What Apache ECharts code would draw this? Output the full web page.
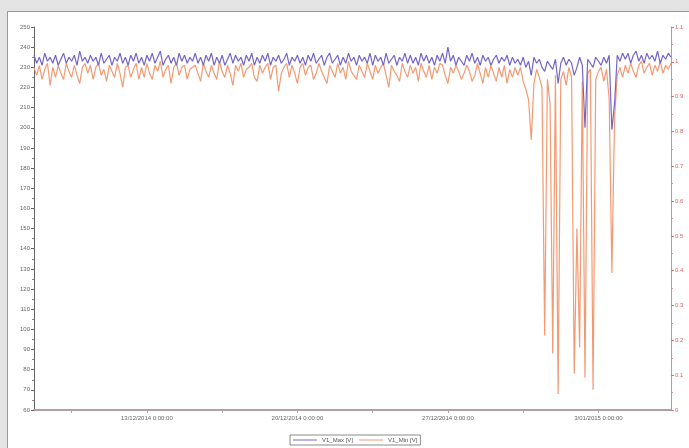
<!DOCTYPE html>
<html><head><meta charset="utf-8">
<script src="https://cdn.jsdelivr.net/npm/echarts@6/dist/echarts.min.js"></script>
<style>
html,body{margin:0;padding:0;background:#e4e4e4;width:689px;height:448px;overflow:hidden;}
#panel{position:absolute;left:7px;top:11px;width:681px;height:436px;background:#fff;border-left:1px solid #9a9a9a;border-top:1px solid #9a9a9a;}
#chart{width:681px;height:436px;}
</style></head>
<body><div id="panel"><div id="chart"></div></div>
<script>
// sampling: 3-hour steps starting 7/12/2014 18:00
const startTime = Date.UTC(2014, 11, 7, 18);
const stepMs = 3 * 3600 * 1000;
const seriesNames = ['V1_Max [V]', 'V1_Min [V]'];
const v1Max = [
236,232,235,231,237,233,235,232,236,231,234,237,232,235,233,236,231,238,233,235,
232,236,233,235,231,237,232,234,236,231,235,233,237,232,235,231,236,233,237,232,
235,231,236,233,237,232,235,238,231,234,236,232,235,231,237,233,236,232,235,233,
237,232,235,231,236,233,237,231,235,232,236,231,234,237,232,236,233,235,231,236,
233,237,231,235,232,236,233,237,231,235,233,236,232,234,237,231,235,233,236,232,
235,231,236,233,237,232,234,236,231,235,237,232,234,236,231,235,232,237,233,235,
231,236,233,235,232,237,231,236,233,235,231,237,232,234,236,231,235,233,237,232,
236,232,235,231,237,233,236,232,235,231,236,233,237,232,240,233,236,231,235,233,
231,236,233,237,232,235,231,236,233,235,231,234,236,232,235,233,236,231,235,232,
234,231,235,230,233,226,235,232,234,230,228,233,231,229,234,222,232,235,231,234,
232,226,230,235,231,200,234,232,230,235,233,231,235,232,236,199,212,236,233,237,
234,237,232,236,238,233,236,232,237,234,236,233,238,232,236,234,237,235
];
const v1Min = [
230,226,231,224,229,232,221,230,225,231,227,224,232,228,225,231,226,222,230,232,
227,231,224,230,232,226,229,223,231,228,225,232,227,220,230,231,225,229,232,224,
230,225,232,227,224,231,228,233,225,229,231,222,230,232,226,230,231,224,229,230,
231,227,223,232,228,225,231,227,224,233,228,225,231,227,221,231,228,232,225,229,
230,232,225,223,231,227,230,232,224,230,231,218,227,230,232,225,231,227,222,230,
232,226,230,231,224,227,232,228,225,222,231,228,225,232,227,230,224,233,228,226,
224,231,228,225,232,228,224,231,227,230,232,226,220,231,228,226,223,232,228,225,
231,227,230,223,232,228,225,231,224,230,227,232,231,226,222,230,227,231,228,224,
227,231,228,223,226,232,227,222,230,225,231,227,223,230,225,231,222,229,225,230,
226,230,223,219,214,194,222,229,225,220,97,224,212,88,226,68,224,228,221,230,
225,78,150,91,223,76,227,229,70,224,228,230,223,229,214,128,205,226,230,225,
231,227,232,228,225,231,233,227,230,232,226,231,228,233,227,231,229,232
];
const xLabelDates = [Date.UTC(2014,11,13), Date.UTC(2014,11,20), Date.UTC(2014,11,27), Date.UTC(2015,0,3)];
const xTickLabels = ['13/12/2014 0:00:00', '20/12/2014 0:00:00', '27/12/2014 0:00:00', '3/01/2015 0:00:00'];
const xTickDates = [Date.UTC(2014,11,9,12), Date.UTC(2014,11,13), Date.UTC(2014,11,16,12), Date.UTC(2014,11,20),
  Date.UTC(2014,11,23,12), Date.UTC(2014,11,27), Date.UTC(2014,11,30,12), Date.UTC(2015,0,3)];

const toPairs = arr => arr.map((v, i) => [startTime + i * stepMs, v]);
const endTime = startTime + (v1Max.length - 1) * stepMs;

const chart = echarts.init(document.getElementById('chart'));
chart.setOption({
  animation: false,
  backgroundColor: '#fff',
  grid: {left: 26, right: 18, top: 15, bottom: 38},
  legend: {
    left: 282, top: 423,
    data: seriesNames,
    icon: 'rect', itemWidth: 24, itemHeight: 1, itemGap: 6,
    borderColor: '#8a8a8a', borderWidth: 1, padding: [2, 3],
    textStyle: {fontSize: 6, color: '#555', fontFamily: 'Liberation Sans'}
  },
  xAxis: {
    type: 'value', min: startTime, max: endTime,
    axisLine: {show: true, onZero: false, lineStyle: {color: '#b0a0a4', width: 2}},
    axisTick: {show: true, customValues: xTickDates, length: 3, lineStyle: {color: '#aaa'}},
    axisLabel: {
      customValues: xLabelDates, fontSize: 6, color: '#666', margin: 5, fontFamily: 'Liberation Sans',
      formatter: v => { const k = xLabelDates.indexOf(v); return k >= 0 ? xTickLabels[k] : ''; }
    },
    splitLine: {show: false}
  },
  yAxis: [
    {
      type: 'value', min: 60, max: 250, interval: 10, position: 'left',
      axisLine: {show: true, lineStyle: {color: '#666', width: 1}},
      axisTick: {show: true, length: 3, lineStyle: {color: '#666'}},
      minorTick: {show: true, splitNumber: 2, length: 2, lineStyle: {color: '#888'}},
      axisLabel: {fontSize: 6, color: '#666', margin: 4, fontFamily: 'Liberation Sans'},
      splitLine: {show: false}
    },
    {
      type: 'value', min: 0, max: 1.1, interval: 0.1, position: 'right',
      axisLine: {show: true, lineStyle: {color: '#e08a8a', width: 1}},
      axisTick: {show: true, length: 3, lineStyle: {color: '#e07070'}},
      minorTick: {show: true, splitNumber: 2, length: 2, lineStyle: {color: '#e09090'}},
      axisLabel: {fontSize: 6, color: '#e06060', margin: 4, fontFamily: 'Liberation Sans',
        formatter: v => String(+v.toFixed(1))},
      splitLine: {show: false}
    }
  ],
  series: [
    {name: seriesNames[1], type: 'line', yAxisIndex: 0, data: toPairs(v1Min), showSymbol: false,
     lineStyle: {width: 1.2, color: '#f39a72'}, itemStyle: {color: '#f39a72'}},
    {name: seriesNames[0], type: 'line', yAxisIndex: 0, data: toPairs(v1Max), showSymbol: false,
     lineStyle: {width: 1.2, color: '#7466c8'}, itemStyle: {color: '#7466c8'}}
  ]
});
</script></body></html>
